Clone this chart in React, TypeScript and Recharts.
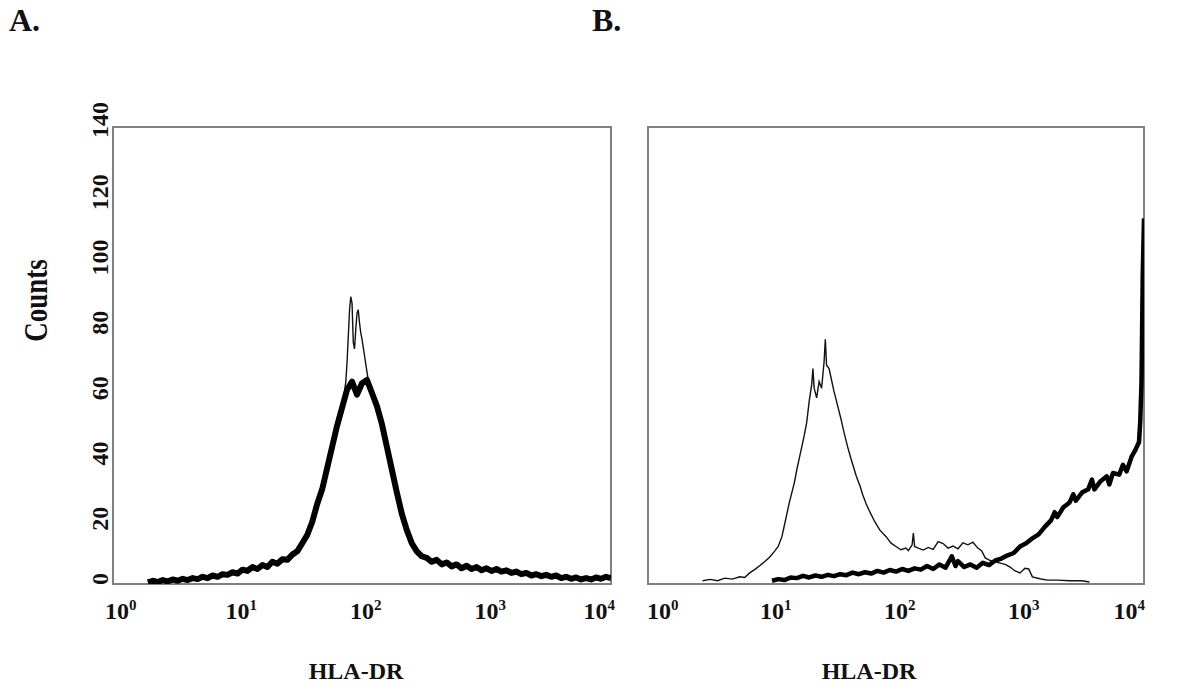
import { LineChart, Line, XAxis, YAxis, ReferenceArea } from "recharts";

const FONT = '"Liberation Serif", "Times New Roman", serif';

// axis ticks: x is log10(HLA-DR fluorescence), y is event counts
const decades = [0, 1, 2, 3, 4];
const countTicks = [0, 20, 40, 60, 80, 100, 120, 140];

// Panel A - thick histogram
const aThickLog = [
  0.28, 0.32, 0.36, 0.4, 0.44, 0.48, 0.52, 0.56, 0.6, 0.64, 0.68, 0.72, 0.76, 0.8, 0.84, 0.88,
  0.92, 0.96, 1.0, 1.04, 1.08, 1.12, 1.16, 1.2, 1.24, 1.28, 1.32, 1.36, 1.4, 1.44, 1.48, 1.52,
  1.56, 1.6, 1.64, 1.68, 1.72, 1.76, 1.8, 1.84, 1.88, 1.92, 1.96, 2.0, 2.04, 2.08, 2.12, 2.16,
  2.2, 2.24, 2.28, 2.32, 2.36, 2.4, 2.44, 2.48, 2.52, 2.56, 2.6, 2.64, 2.68, 2.72, 2.76, 2.8,
  2.84, 2.88, 2.92, 2.96, 3.0, 3.04, 3.08, 3.12, 3.16, 3.2, 3.24, 3.28, 3.32, 3.36, 3.4, 3.44,
  3.48, 3.52, 3.56, 3.6, 3.64, 3.68, 3.72, 3.76, 3.8, 3.84, 3.88, 3.92, 3.96, 4.0,
];
const aThickCnt = [
  0.5, 1.0, 0.6, 1.2, 0.8, 1.4, 1.0, 1.6, 1.2, 1.8, 1.5, 2.2, 1.8, 2.6, 2.2, 3.0,
  2.8, 3.6, 3.2, 4.4, 4.0, 5.2, 4.6, 5.8, 5.2, 6.8, 6.2, 7.6, 7.4, 9.0, 10.0, 12.5,
  15.0, 19.0, 24.5, 29.0, 35.5, 42.0, 48.5, 54.0, 59.5, 62.0, 58.0, 61.5, 62.5, 58.5, 54.5, 49.0,
  42.0, 35.0, 28.0, 21.5, 16.5, 12.5, 10.0, 8.5, 8.0, 6.8, 7.4, 6.0, 6.6, 5.4, 6.0, 4.8,
  5.6, 4.6, 5.2, 4.2, 4.8, 4.0, 4.6, 3.8, 4.2, 3.4, 3.8, 3.0, 3.4, 2.6, 3.0, 2.4,
  2.8, 2.2, 2.6, 1.8, 2.2, 1.6, 2.0, 1.4, 1.8, 1.4, 2.0, 1.6, 2.2, 1.8,
];

// Panel A - thin histogram (only visible where it leaves the thick one)
const aThinLog = [
  1.6, 1.68, 1.76, 1.82, 1.85, 1.87, 1.88, 1.89, 1.9, 1.91, 1.92, 1.925, 1.93, 1.94, 1.95,
  1.96, 1.97, 1.98, 1.99, 2.0, 2.02, 2.04, 2.06, 2.1, 2.16, 2.24,
];
const aThinCnt = [
  20, 29, 42, 51, 56, 62, 68, 76, 84, 88, 86, 80, 74, 72, 78,
  83, 84, 80, 77, 75, 70, 65, 60, 56, 49, 36,
];

// Panel B - thin histogram
const bThinLog = [
  0.44, 0.5, 0.56, 0.62, 0.68, 0.74, 0.78, 0.82, 0.86, 0.9, 0.94, 0.98, 1.02, 1.05, 1.08, 1.1,
  1.12, 1.14, 1.16, 1.18, 1.2, 1.22, 1.24, 1.26, 1.28, 1.3, 1.32, 1.33, 1.34, 1.36, 1.38, 1.4,
  1.42, 1.43, 1.44, 1.46, 1.48, 1.5, 1.52, 1.54, 1.56, 1.58, 1.61, 1.64, 1.68, 1.71, 1.73, 1.76,
  1.79, 1.83, 1.87, 1.92, 1.96, 2.0, 2.04, 2.08, 2.1, 2.13, 2.14, 2.15, 2.18, 2.22, 2.26, 2.3,
  2.34, 2.38, 2.42, 2.46, 2.5, 2.54, 2.58, 2.62, 2.66, 2.69, 2.72, 2.76, 2.8, 2.84, 2.88, 2.92,
  2.96, 3.0, 3.04, 3.07, 3.1, 3.16, 3.22, 3.3, 3.4, 3.5, 3.56,
];
const bThinCnt = [
  1.0, 1.4, 1.0, 1.8, 1.5, 2.2, 2.0, 3.4, 4.4, 5.6, 6.8, 8.2, 10.0, 11.5, 14.5, 18.0,
  21.5, 25.0, 28.0, 31.0, 35.0, 38.5, 42.0, 45.5, 49.5, 56.0, 61.0, 66.0, 60.0, 57.0, 62.0, 60.0,
  68.0, 75.0, 67.0, 66.0, 62.5, 59.0, 56.0, 53.0, 50.0, 46.5, 42.0, 38.0, 33.0, 30.0, 27.5, 24.5,
  22.0, 19.0, 16.5, 14.5, 12.5, 11.5, 10.5, 11.0, 10.2, 12.0, 15.6, 11.5, 11.0, 10.4, 11.2, 10.6,
  13.0, 12.4, 11.0, 11.6, 10.8, 12.6, 12.0, 12.8, 11.0, 10.2, 8.0, 7.2, 6.8, 6.4, 6.0, 5.2,
  4.0, 3.4, 4.8, 4.6, 2.2, 1.6, 1.2, 1.2, 1.0, 1.0, 0.6,
];

// Panel B - thick histogram
const bThickLog = [
  1.0, 1.05, 1.1, 1.15, 1.2, 1.25, 1.3, 1.35, 1.4, 1.45, 1.5, 1.55, 1.6, 1.65, 1.7, 1.75,
  1.8, 1.85, 1.9, 1.95, 2.0, 2.05, 2.1, 2.15, 2.2, 2.25, 2.3, 2.35, 2.4, 2.45, 2.48, 2.5,
  2.55, 2.6, 2.65, 2.7, 2.75, 2.8, 2.85, 2.9, 2.95, 3.0, 3.05, 3.1, 3.15, 3.2, 3.25, 3.28,
  3.3, 3.35, 3.4, 3.43, 3.45, 3.5, 3.55, 3.58, 3.6, 3.65, 3.7, 3.72, 3.75, 3.8, 3.83, 3.86,
  3.9, 3.93, 3.96, 3.97, 3.98, 3.99, 4.0,
];
const bThickCnt = [
  1.0, 1.5, 1.2, 2.0, 1.8, 2.5, 2.0, 2.6, 2.2, 2.8, 2.4, 3.0, 2.7, 3.5, 3.0, 3.6,
  3.2, 4.0, 3.5, 4.3, 3.8, 4.6, 4.0, 4.8, 4.4, 5.5, 4.6, 6.0, 5.0, 8.5, 5.5, 7.0,
  5.2, 6.0, 5.0, 6.5, 5.8, 7.2, 7.8, 8.8, 9.5, 11.5, 12.5, 14.0, 15.2, 17.5, 19.5, 22.0,
  20.5, 23.5, 25.0, 27.5, 25.5, 28.0, 29.0, 32.0, 29.0, 31.5, 33.0, 30.5, 34.0, 33.5, 36.5, 34.5,
  39.0, 41.0, 43.5, 50.0, 62.0, 95.0, 112.0,
];

const zip = (xs: number[], ys: number[]) => xs.map((x, i) => ({ x, y: ys[i] }));

const DecadeTick = (props: any) => {
  const { x, y, payload, panel } = props;
  const v = payload.value;
  let anchor = "start";
  let tx = x - 12;
  if (v === 4) {
    anchor = "end";
    tx = x + (panel === "A" ? 4 : 1);
  } else if (v === 0) {
    tx = panel === "A" ? x - 8 : x - 1;
  }
  return (
    <text x={tx} y={y + 35} textAnchor={anchor} fontFamily={FONT} fontWeight="bold" fontSize={24} fill="#111">
      10
      <tspan dy={-9} fontSize={15}>
        {v}
      </tspan>
    </text>
  );
};

const CountTick = (props: any) => {
  const { x, y, payload } = props;
  const v = payload.value;
  const ty = v === 0 ? y + 1 : v === 140 ? y - 7 : y;
  return (
    <text
      transform={`translate(${x - 13},${ty}) rotate(-90)`}
      textAnchor={v === 0 ? "start" : "middle"}
      dominantBaseline="central"
      fontFamily={FONT}
      fontWeight="bold"
      fontSize={24}
      fill="#111"
    >
      {v}
    </text>
  );
};

const CountsLabel = (props: any) => {
  const vb = props.viewBox;
  const cx = vb.x + 36;
  const cy = vb.y + vb.height / 2 - 55;
  return (
    <text
      transform={`translate(${cx},${cy}) rotate(-90) scale(1,1.25)`}
      textAnchor="middle"
      dominantBaseline="central"
      fontFamily={FONT}
      fontWeight="bold"
      fontSize={27}
      fill="#111"
    >
      Counts
    </text>
  );
};

const markerLabel = (dx: number) => (props: any) => {
  const vb = props.viewBox;
  return (
    <text x={vb.x + vb.width / 2 + dx} y={vb.y + 95} textAnchor="middle" fontFamily={FONT} fontWeight="bold" fontSize={24} fill="#111">
      HLA-DR
    </text>
  );
};

const panelLetter = (left: number, text: string) => (
  <div
    style={{
      position: "absolute",
      left,
      top: 0,
      fontFamily: FONT,
      fontWeight: "bold",
      fontSize: 32,
      lineHeight: "40px",
      color: "#111",
    }}
  >
    {text}
  </div>
);

export default function App() {
  return (
    <div style={{ position: "absolute", left: 0, top: 0, width: 1178, height: 698, background: "#fff", overflow: "hidden" }}>
      {panelLetter(9, "A.")}
      {panelLetter(592, "B.")}

      <div style={{ position: "absolute", left: 0, top: 0 }}>
        <LineChart width={640} height={698} margin={{ top: 127, right: 29, bottom: 74, left: 0 }}>
          <XAxis
            type="number"
            dataKey="x"
            domain={[0, 4]}
            ticks={decades}
            allowDataOverflow
            axisLine={false}
            tickLine={false}
            tickSize={0}
            tickMargin={0}
            height={40}
            interval={0}
            tick={<DecadeTick panel="A" />}
            label={{ content: markerLabel(-6) }}
          />
          <YAxis
            type="number"
            domain={[0, 140]}
            ticks={countTicks}
            allowDataOverflow
            axisLine={false}
            tickLine={false}
            tickSize={0}
            tickMargin={0}
            width={113}
            interval={0}
            tick={<CountTick />}
            label={{ content: CountsLabel }}
          />
          <ReferenceArea x1={0} x2={4} y1={0} y2={140} fill="none" stroke="#808080" strokeWidth={2} ifOverflow="visible" />
          <Line data={zip(aThinLog, aThinCnt)} dataKey="y" type="linear" dot={false} stroke="#111" strokeWidth={1.4} isAnimationActive={false} />
          <Line data={zip(aThickLog, aThickCnt)} dataKey="y" type="linear" dot={false} stroke="#000" strokeWidth={6} strokeLinejoin="round" isAnimationActive={false} />
        </LineChart>
      </div>

      <div style={{ position: "absolute", left: 620, top: 0 }}>
        <LineChart width={558} height={698} margin={{ top: 127, right: 34, bottom: 74, left: 28 }}>
          <XAxis
            type="number"
            dataKey="x"
            domain={[0, 4]}
            ticks={decades}
            allowDataOverflow
            axisLine={false}
            tickLine={false}
            tickSize={0}
            tickMargin={0}
            height={40}
            interval={0}
            tick={<DecadeTick panel="B" />}
            label={{ content: markerLabel(-27) }}
          />
          <YAxis hide type="number" domain={[0, 140]} ticks={countTicks} allowDataOverflow />
          <ReferenceArea x1={0} x2={4} y1={0} y2={140} fill="none" stroke="#808080" strokeWidth={2} ifOverflow="visible" />
          <Line data={zip(bThinLog, bThinCnt)} dataKey="y" type="linear" dot={false} stroke="#111" strokeWidth={1.4} isAnimationActive={false} />
          <Line data={zip(bThickLog, bThickCnt)} dataKey="y" type="linear" dot={false} stroke="#000" strokeWidth={4.5} strokeLinejoin="round" isAnimationActive={false} />
        </LineChart>
      </div>
    </div>
  );
}
